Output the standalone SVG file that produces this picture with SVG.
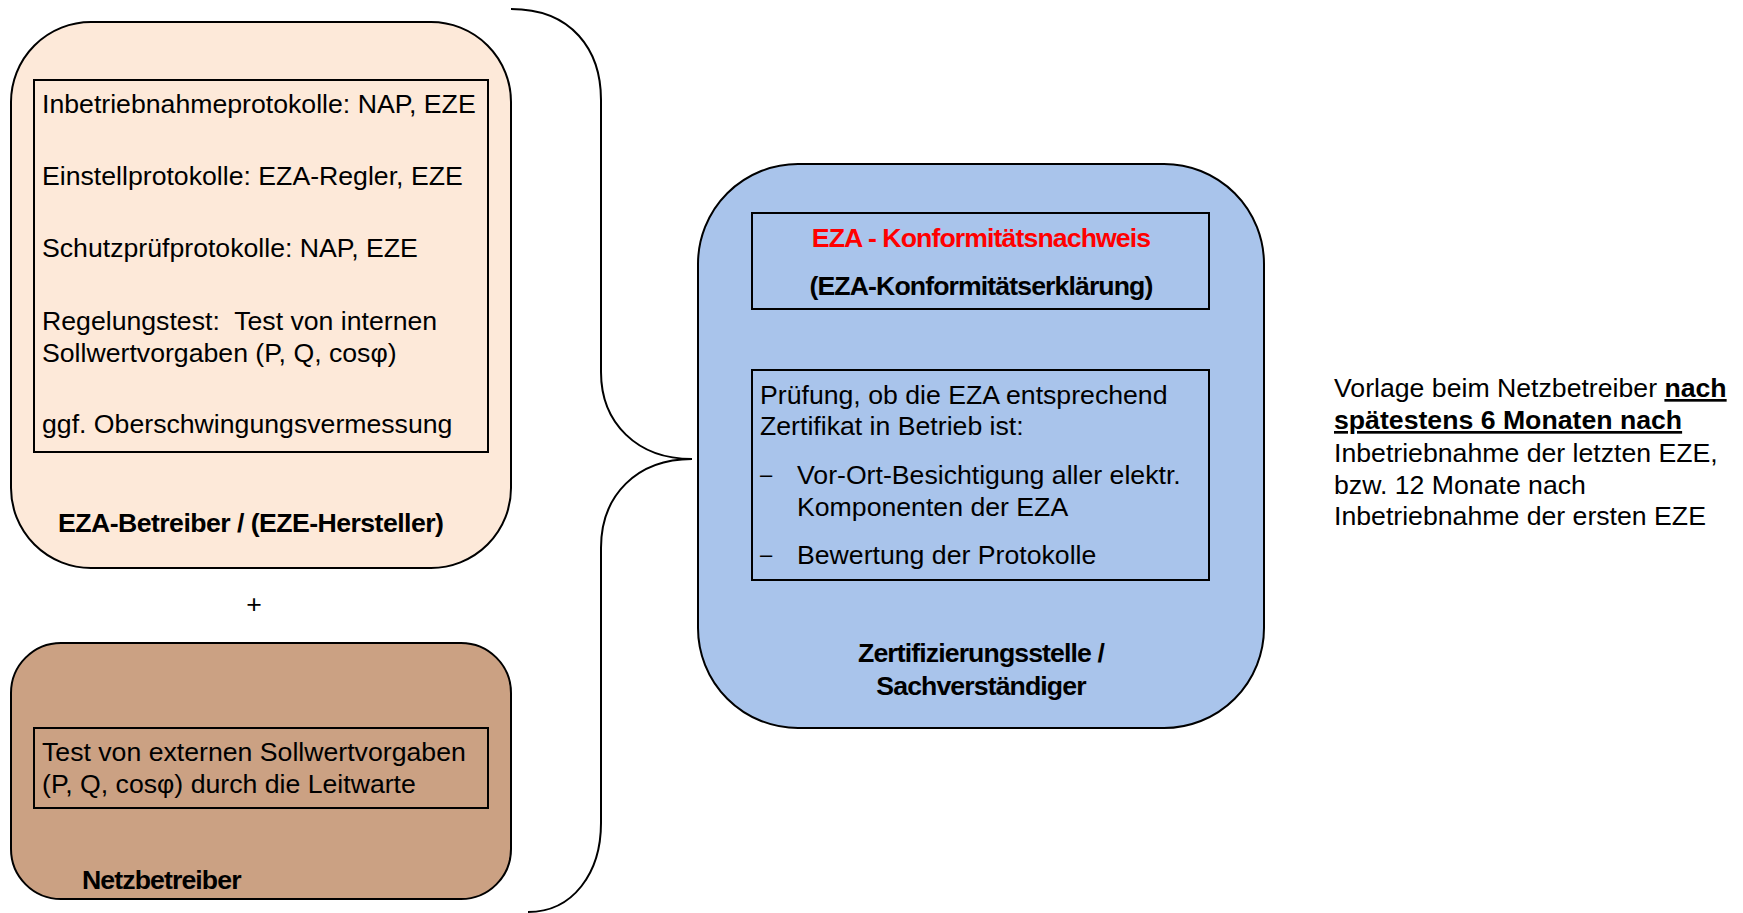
<svg xmlns="http://www.w3.org/2000/svg" width="1743" height="913" viewBox="0 0 1743 913">
<style>
.t{font-family:"Liberation Sans",Arial,sans-serif;font-size:26.67px;fill:#000}
.b{font-family:"Liberation Sans",Arial,sans-serif;font-size:26.67px;font-weight:bold;fill:#000;letter-spacing:-0.9px}
.box{fill:none;stroke:#000;stroke-width:2}
.outer{stroke:#000;stroke-width:2}
.d{font-family:"Liberation Sans",Arial,sans-serif;font-size:22px;fill:#000}
</style>
<rect width="1743" height="913" fill="#fff"/>
<g id="connectors">
<path d="M 511 9 C 572 9, 601 50, 601 100 L 601 372 C 601 423, 637 459, 692 459 C 637 459, 601 495, 601 548 L 601 823 C 601 873, 573 912, 528 912" fill="none" stroke="#000" stroke-width="2"/>
</g>
<g id="eza-betreiber">
<rect class="outer" x="11" y="22" width="500" height="546" rx="80" ry="80" fill="#FDE9D9"/>
<rect class="box" x="34" y="80" width="454" height="372"/>
<text class="t" x="42" y="113">Inbetriebnahmeprotokolle: NAP, EZE</text>
<text class="t" x="42" y="185">Einstellprotokolle: EZA-Regler, EZE</text>
<text class="t" x="42" y="257">Schutzprüfprotokolle: NAP, EZE</text>
<text class="t" x="42" y="330" xml:space="preserve" style="white-space:pre">Regelungstest:  Test von internen</text>
<text class="t" x="42" y="362">Sollwertvorgaben (P, Q, cosφ)</text>
<text class="t" x="42" y="433">ggf. Oberschwingungsvermessung</text>
<text class="b" x="58" y="532" style="letter-spacing:-0.55px">EZA-Betreiber / (EZE-Hersteller)</text>
</g>
<g id="plus">
<text class="t" x="254" y="613" text-anchor="middle">+</text>
</g>
<g id="netzbetreiber">
<rect class="outer" x="11" y="643" width="500" height="256" rx="50" ry="50" fill="#CBA183"/>
<rect class="box" x="34" y="728" width="454" height="80"/>
<text class="t" x="42" y="761">Test von externen Sollwertvorgaben</text>
<text class="t" x="42" y="793">(P, Q, cosφ) durch die Leitwarte</text>
<text class="b" x="82" y="889">Netzbetreiber</text>
</g>
<g id="zertifizierungsstelle">
<rect class="outer" x="698" y="164" width="566" height="564" rx="100" ry="100" fill="#A9C4EB"/>
<rect class="box" x="752" y="213" width="457" height="96"/>
<text class="b" x="981" y="247" text-anchor="middle" style="fill:#FF0000">EZA - Konformitätsnachweis</text>
<text class="b" x="981" y="295" text-anchor="middle">(EZA-Konformitätserklärung)</text>
<rect class="box" x="752" y="370" width="457" height="210"/>
<text class="t" x="760" y="404">Prüfung, ob die EZA entsprechend</text>
<text class="t" x="760" y="435">Zertifikat in Betrieb ist:</text>
<text class="d" x="760" y="482">–</text>
<text class="t" x="797" y="484">Vor-Ort-Besichtigung aller elektr.</text>
<text class="t" x="797" y="516">Komponenten der EZA</text>
<text class="d" x="760" y="562">–</text>
<text class="t" x="797" y="564">Bewertung der Protokolle</text>
<text class="b" x="981" y="662" text-anchor="middle">Zertifizierungsstelle /</text>
<text class="b" x="981" y="695" text-anchor="middle">Sachverständiger</text>
</g>
<g id="vorlage">
<text class="t" x="1334" y="397">Vorlage beim Netzbetreiber <tspan font-weight="bold" text-decoration="underline">nach</tspan></text>
<text class="t" x="1334" y="429"><tspan font-weight="bold" text-decoration="underline">spätestens 6 Monaten nach</tspan></text>
<text class="t" x="1334" y="462">Inbetriebnahme der letzten EZE,</text>
<text class="t" x="1334" y="494">bzw. 12 Monate nach</text>
<text class="t" x="1334" y="525">Inbetriebnahme der ersten EZE</text>
</g>
</svg>
